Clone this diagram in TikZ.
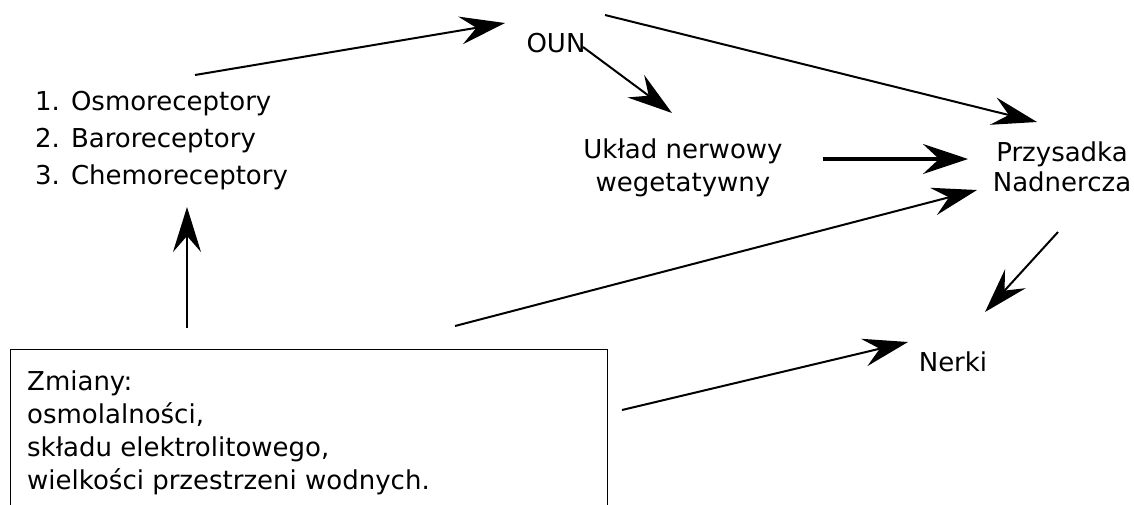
\documentclass[tikz,border=0pt]{standalone}
\usepackage{fontspec}
\setmainfont{DejaVu Sans}
\usetikzlibrary{arrows.meta}
\begin{document}
\begin{tikzpicture}[x=1pt,y=-1pt,
  lbl/.style={font=\fontsize{26}{33}\selectfont, inner sep=0pt},
  arr/.style={-{Stealth[length=45pt,width=28pt,inset=16pt]}, line width=2pt},
  thickarr/.style={-{Stealth[length=45pt,width=30pt,inset=16pt]}, line width=4pt},
]
\useasboundingbox (0,0) rectangle (1134,504);
% nodes
\node[lbl, align=left, anchor=west, font=\fontsize{26}{37}\selectfont] (rec) at (35,141)
  {1. Osmoreceptory\\2. Baroreceptory\\3. Chemoreceptory};
\node[lbl] (oun) at (556,43) {OUN};
\node[lbl, align=center] (ukl) at (683,168) {Układ nerwowy\\wegetatywny};
\node[lbl, align=center, font=\fontsize{26}{30}\selectfont] (prz) at (1062,167) {Przysadka\\Nadnercza};
\node[lbl] (ner) at (953,362) {Nerki};
\draw[line width=1pt] (10,349) rectangle (607,530);
\node[lbl, align=left, anchor=north west] (box) at (27,371)
  {Zmiany:\\osmolalności,\\składu elektrolitowego,\\wielkości przestrzeni wodnych.};
% connector ends
\coordinate (recA) at (195,75);
\coordinate (ounIn) at (505,23);
\coordinate (ounOutA) at (583,47);
\coordinate (uklIn) at (672,113);
\coordinate (ounOutB) at (605,15);
\coordinate (przInA) at (1037,122);
\coordinate (uklOut) at (823,159);
\coordinate (przInB) at (968,159);
\coordinate (boxA) at (455,326);
\coordinate (przInC) at (977,190);
\coordinate (przOut) at (1058,232);
\coordinate (nerInA) at (985,312);
\coordinate (boxB) at (622,410);
\coordinate (nerInB) at (908,342);
\coordinate (boxC) at (187,328);
\coordinate (recIn) at (187,207);
% connectors
\draw[arr] (recA) -- (ounIn);
\draw[arr] (ounOutA) -- (uklIn);
\draw[arr] (ounOutB) -- (przInA);
\draw[thickarr] (uklOut) -- (przInB);
\draw[arr] (boxA) -- (przInC);
\draw[arr] (przOut) -- (nerInA);
\draw[arr] (boxB) -- (nerInB);
\draw[arr] (boxC) -- (recIn);
\end{tikzpicture}
\end{document}
